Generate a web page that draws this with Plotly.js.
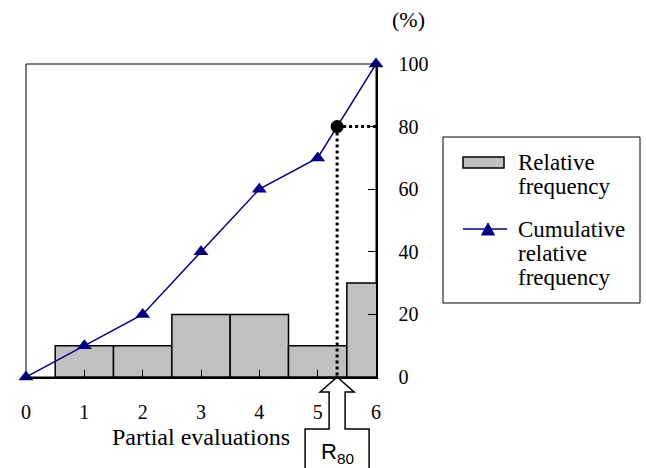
<!DOCTYPE html>
<html>
<head>
<meta charset="utf-8">
<script src="https://cdn.plot.ly/plotly-3.0.1.min.js"></script>
<style>html,body{margin:0;padding:0;background:#fff;}#chart{width:646px;height:468px;}</style>
</head>
<body>
<div id="chart"></div>
<script>
// ---- data ----
const evaluations = [0, 1, 2, 3, 4, 5, 6];          // x categories (partial evaluations)
const barEvaluations = [1, 2, 3, 4, 5, 6];
const relativeFrequency = [10, 10, 20, 20, 10, 30];  // %
const cumulativeFrequency = [0, 10, 20, 40, 60, 70, 100]; // %
const threshold = 80;                                // R80 threshold, %
const xTickVals = [0, 1, 2, 3, 4, 5, 6];
const yTickVals = [0, 20, 40, 60, 80, 100];
const legendLabels = ["Relative", "frequency", "Cumulative", "relative", "frequency"];

// R80: where the cumulative curve reaches the threshold (linear interpolation)
let r80 = evaluations[evaluations.length - 1];
for (let i = 0; i < cumulativeFrequency.length - 1; i++) {
  const a = cumulativeFrequency[i], b = cumulativeFrequency[i + 1];
  if (a <= threshold && threshold <= b) {
    r80 = evaluations[i] + (threshold - a) / (b - a) * (evaluations[i + 1] - evaluations[i]);
    break;
  }
}
const xMax = evaluations[evaluations.length - 1];
const yMin = 0;

// layout geometry helpers (pixel -> paper)
const W = 646, H = 468, ML = 26, MR = 270, MT = 64, MB = 91;
const PW = W - ML - MR, PH = H - MT - MB;
const px = x => (x - ML) / PW;
const py = y => (H - MB - y) / PH;

const serif = "Liberation Serif";
const navy = "#000080";

const traces = [
  {
    type: "bar", x: barEvaluations, y: relativeFrequency, width: 1,
    marker: {color: "#C0C0C0", line: {color: "#000", width: 1.5}},
    showlegend: false, hoverinfo: "skip"
  },
  {
    type: "scatter", mode: "lines", x: [r80, xMax], y: [threshold, threshold],
    line: {color: "#000", width: 3, dash: "dot"}, showlegend: false, cliponaxis: false, hoverinfo: "skip"
  },
  {
    type: "scatter", mode: "lines", x: [r80, r80], y: [threshold, yMin],
    line: {color: "#000", width: 3, dash: "dot"}, showlegend: false, cliponaxis: false, hoverinfo: "skip"
  },
  {
    type: "scatter", mode: "lines+markers", x: evaluations, y: cumulativeFrequency,
    line: {color: navy, width: 1.5},
    marker: {symbol: "triangle-up", size: 13, color: navy},
    showlegend: false, cliponaxis: false, hoverinfo: "skip"
  },
  {
    type: "scatter", mode: "markers", x: [r80], y: [threshold],
    marker: {symbol: "circle", size: 13, color: "#000"},
    showlegend: false, cliponaxis: false, hoverinfo: "skip"
  }
];

// legend pieces (custom, drawn in paper coords)
const shapes = [
  {type: "rect", xref: "paper", yref: "paper", x0: 0, x1: 1, y0: 0, y1: 1,
   line: {color: "#000", width: 1}, layer: "below"},
  // R80 arrow below the axis
  {type: "path", xref: "x", yref: "paper", xsizemode: "pixel", ysizemode: "pixel",
   xanchor: r80, yanchor: 0,
   path: "M -32 -100 L -32 -52 L -8 -52 L -8 -15 L -17 -15 L 0 0 L 17 -15 L 8 -15 L 8 -52 L 32 -52 L 32 -100",
   line: {color: "#000", width: 1.5}, fillcolor: "rgba(0,0,0,0)"},
  // legend box
  {type: "rect", xref: "paper", yref: "paper", x0: px(443), x1: px(640), y0: py(303), y1: py(137),
   line: {color: "#000", width: 1}},
  {type: "rect", xref: "paper", yref: "paper", x0: px(463), x1: px(504), y0: py(168), y1: py(157),
   line: {color: "#000", width: 1.5}, fillcolor: "#C0C0C0"},
  {type: "line", xref: "paper", yref: "paper", x0: px(463), x1: px(507), y0: py(229), y1: py(229),
   line: {color: navy, width: 1.5}},
  {type: "path", xref: "paper", yref: "paper",
   path: `M ${px(481.5)} ${py(235)} L ${px(494.5)} ${py(235)} L ${px(488)} ${py(223)} Z`,
   line: {color: navy, width: 1}, fillcolor: navy}
];

const legendY = [162, 186, 229, 253, 277];
const annotations = legendLabels.map((t, i) => ({
  text: t, xref: "paper", yref: "paper", x: px(516), y: py(legendY[i]),
  xanchor: "left", yanchor: "middle", showarrow: false,
  font: {family: serif, size: 23, color: "#000"}
}));
annotations.push({
  text: "(%)", xref: "paper", yref: "paper", x: px(408), y: py(20),
  xanchor: "center", yanchor: "middle", showarrow: false,
  font: {family: serif, size: 22, color: "#000"}
});
annotations.push({
  text: "R<sub>80</sub>", xref: "x", yref: "paper", x: r80, y: py(453),
  xanchor: "center", yanchor: "middle", showarrow: false,
  font: {family: "Liberation Sans", size: 22, color: "#000"}
});

const layout = {
  width: W, height: H,
  margin: {l: ML, r: MR, t: MT, b: MB, pad: 0},
  paper_bgcolor: "#fff", plot_bgcolor: "#fff",
  showlegend: false,
  bargap: 0,
  font: {family: serif, color: "#000"},
  xaxis: {
    range: [0, xMax], tickvals: xTickVals, ticktext: xTickVals.map(String),
    ticks: "inside", ticklen: 7, tickwidth: 1, tickcolor: "#000",
    showline: true, linewidth: 2, linecolor: "#000",
    showgrid: false, zeroline: false, fixedrange: true,
    tickfont: {family: serif, size: 20, color: "#000"},
    ticklabelstandoff: 16,
    title: {text: "Partial evaluations", font: {family: serif, size: 24, color: "#000"}, standoff: 6},
    automargin: false
  },
  yaxis: {
    side: "right", range: [0, 100], tickvals: yTickVals, ticktext: yTickVals.map(String),
    ticks: "inside", ticklen: 8, tickwidth: 1, tickcolor: "#000",
    showline: true, linewidth: 1.5, linecolor: "#000",
    showgrid: false, zeroline: false, fixedrange: true,
    tickfont: {family: serif, size: 20, color: "#000"},
    ticklabelstandoff: 17, automargin: false
  },
  shapes: shapes,
  annotations: annotations
};

Plotly.newPlot("chart", traces, layout, {displayModeBar: false, staticPlot: true});
</script>
</body>
</html>
